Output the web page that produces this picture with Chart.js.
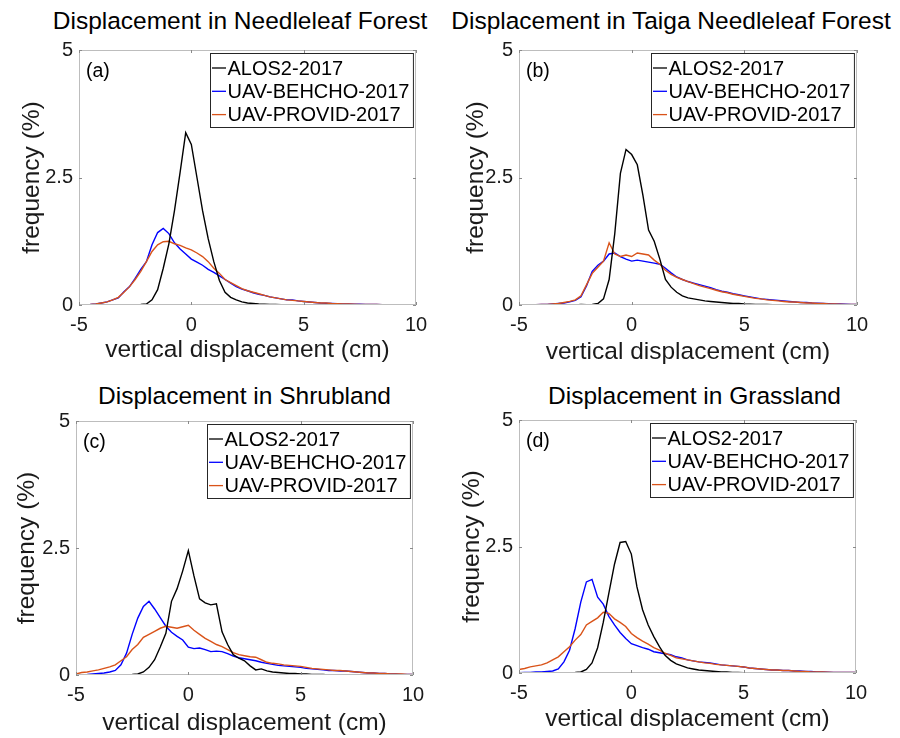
<!DOCTYPE html>
<html>
<head>
<meta charset="utf-8">
<script src="https://cdn.jsdelivr.net/npm/chart.js@4.4.0/dist/chart.umd.min.js"></script>
<style>
  body { margin: 0; background: #fff; width: 900px; height: 738px; overflow: hidden; position: relative;
         font-family: "Liberation Sans", Arial, sans-serif; }
  canvas { position: absolute; }
  .ttl { position: absolute; width: 500px; text-align: center; font-size: 24.5px; line-height: 24px; color: #000; white-space: nowrap; }
</style>
</head>
<body>
<div class="ttl" style="left:-10px;top:9px">Displacement in Needleleaf Forest</div>
<div class="ttl" style="left:421px;top:9px">Displacement in Taiga Needleleaf Forest</div>
<div class="ttl" style="left:-5.5px;top:383.7px">Displacement in Shrubland</div>
<div class="ttl" style="left:444.5px;top:383.7px">Displacement in Grassland</div>
<canvas id="pa" width="450" height="369" style="left:0;top:0"></canvas>
<canvas id="pb" width="450" height="369" style="left:450px;top:0"></canvas>
<canvas id="pc" width="450" height="369" style="left:0;top:369px"></canvas>
<canvas id="pd" width="450" height="369" style="left:450px;top:369px"></canvas>
<script>
// vertical displacement bins (cm)
var xs = [-5,-4.75,-4.5,-4.25, -4,-3.75,-3.5,-3.25, -3,-2.75,-2.5,-2.25, -2,-1.75,-1.5,-1.25,
  -1,-0.75,-0.5,-0.25, 0,0.25,0.5,0.75, 1,1.25,1.5,1.75, 2,2.25,2.5,2.75, 3,3.25,3.5,3.75,
  4,4.25,4.5,4.75, 5,5.25,5.5,5.75, 6,6.25,6.5,6.75, 7,7.25,7.5,7.75, 8,8.25,8.5,8.75,
  9,9.25,9.5,9.75, 10];
var seriesNames = ['ALOS2-2017', 'UAV-BEHCHO-2017', 'UAV-PROVID-2017'];
var yTicks = [0, 2.5, 5];

// (a) Needleleaf Forest
var alosA = [0,0,0,0, 0,0,0,0, 0,0,0.005,0.01, 0.02,0.1,0.3,0.72, 1.2,1.85,2.6,3.38, 3.15,2.5,1.85,1.3,
  0.85,0.48,0.25,0.15, 0.1,0.06,0.04,0.03, 0.02,0.015,0.01,0.01, 0.005,0,0,0, 0,0,0,0, 0,0,0,0,
  0,0,0,0, 0,0,0,0, 0,0,0,0, 0];
var behchoA = [0,0.005,0.01,0.02, 0.04,0.06,0.1,0.14, 0.26,0.36,0.52,0.7, 0.85,1.18,1.42,1.5, 1.4,1.22,1.1,1.0,
  0.9,0.84,0.78,0.7, 0.64,0.57,0.5,0.43, 0.36,0.31,0.28,0.24, 0.21,0.19,0.16,0.14, 0.12,0.1,0.1,0.08,
  0.07,0.06,0.05,0.04, 0.035,0.03,0.025,0.02, 0.02,0.015,0.015,0.01, 0.01,0.01,0.005,0.005, 0.005,0,0,0, 0];
var providA = [0,0.005,0.01,0.02, 0.04,0.06,0.1,0.15, 0.25,0.36,0.5,0.66, 0.85,1.05,1.18,1.24, 1.25,1.2,1.17,1.12,
  1.08,1.02,0.95,0.85, 0.72,0.62,0.5,0.44, 0.38,0.32,0.28,0.25, 0.22,0.19,0.16,0.14, 0.12,0.1,0.09,0.08,
  0.07,0.06,0.05,0.04, 0.04,0.03,0.025,0.02, 0.02,0.015,0.01,0.01, 0.01,0.01,0.005,0.005, 0.005,0.005,0,0, 0];

// (b) Taiga Needleleaf Forest
var alosB = [0,0,0,0, 0,0,0,0, 0,0,0,0.01, 0.005,0.01,0.03,0.12, 0.5,1.4,2.58,3.05, 2.95,2.75,2.15,1.47,
  1.25,0.9,0.5,0.35, 0.25,0.18,0.14,0.12, 0.1,0.08,0.07,0.06, 0.05,0.04,0.03,0.03, 0.02,0.015,0.01,0.01,
  0.01,0.005,0,0, 0,0,0,0, 0,0,0,0, 0,0,0,0, 0];
var behchoB = [0,0,0,0.005, 0.01,0.01,0.02,0.03, 0.04,0.06,0.09,0.16, 0.38,0.66,0.78,0.86, 1.0,1.02,0.95,0.9,
  0.86,0.88,0.86,0.84, 0.82,0.8,0.72,0.63, 0.55,0.5,0.46,0.43, 0.4,0.37,0.34,0.3, 0.27,0.25,0.22,0.2,
  0.18,0.16,0.14,0.12, 0.11,0.1,0.09,0.08, 0.07,0.06,0.05,0.05, 0.04,0.035,0.03,0.025, 0.02,0.02,0.015,0.01, 0.01];
var providB = [0,0,0,0.005, 0.01,0.01,0.02,0.03, 0.05,0.07,0.1,0.18, 0.4,0.62,0.74,0.86, 1.22,1.0,0.95,0.98,
  0.95,1.02,1.0,0.98, 0.88,0.8,0.68,0.6, 0.54,0.5,0.46,0.42, 0.38,0.35,0.32,0.29, 0.26,0.24,0.21,0.19,
  0.17,0.15,0.13,0.12, 0.1,0.09,0.08,0.07, 0.06,0.06,0.05,0.04, 0.04,0.03,0.03,0.02, 0.02,0.015,0.01,0.01, 0.01];

// (c) Shrubland
var alosC = [0,0,0,0, 0,0,0,0, 0,0.005,0.01,0.02, 0.06,0.15,0.3,0.55, 0.82,1.45,1.7,2.05, 2.45,1.95,1.5,1.42,
  1.38,1.4,0.85,0.6, 0.4,0.33,0.28,0.18, 0.1,0.12,0.08,0.06, 0.05,0.04,0.03,0.03, 0.02,0.02,0.01,0.01,
  0.01,0,0,0, 0,0,0,0, 0,0,0,0, 0,0,0,0, 0];
var behchoC = [0,0.005,0.01,0.02, 0.03,0.04,0.06,0.09, 0.2,0.43,0.8,1.12, 1.35,1.45,1.3,1.13, 0.96,0.84,0.76,0.69,
  0.55,0.52,0.53,0.5, 0.46,0.47,0.46,0.42, 0.37,0.34,0.32,0.3, 0.28,0.25,0.23,0.21, 0.19,0.18,0.17,0.16,
  0.15,0.13,0.12,0.11, 0.1,0.09,0.09,0.08, 0.08,0.07,0.06,0.05, 0.04,0.04,0.03,0.03, 0.02,0.02,0.01,0.01, 0.01];
var providC = [0.02,0.05,0.06,0.08, 0.1,0.13,0.16,0.2, 0.28,0.36,0.5,0.6, 0.74,0.8,0.86,0.92, 0.96,0.94,0.92,0.95,
  0.98,0.88,0.8,0.72, 0.66,0.6,0.56,0.5, 0.44,0.4,0.38,0.36, 0.35,0.3,0.25,0.23, 0.22,0.2,0.19,0.18,
  0.17,0.15,0.13,0.12, 0.11,0.1,0.09,0.09, 0.08,0.07,0.06,0.05, 0.04,0.04,0.03,0.03, 0.02,0.02,0.02,0.01, 0.01];

// (d) Grassland
var alosD = [0,0,0,0, 0,0,0,0, 0,0.005,0.01,0.02, 0.07,0.2,0.5,1.0, 1.58,2.15,2.58,2.6, 2.35,1.7,1.25,0.95,
  0.72,0.52,0.35,0.25, 0.18,0.14,0.1,0.08, 0.06,0.05,0.04,0.03, 0.02,0.02,0.01,0.01, 0.005,0,0,0,
  0,0,0,0, 0,0,0,0, 0,0,0,0, 0,0,0,0, 0];
var behchoD = [0.005,0.01,0.01,0.02, 0.02,0.03,0.04,0.08, 0.22,0.45,0.88,1.4, 1.8,1.85,1.5,1.36, 1.12,0.95,0.8,0.68,
  0.58,0.54,0.5,0.47, 0.42,0.4,0.38,0.36, 0.32,0.3,0.26,0.24, 0.22,0.21,0.2,0.18, 0.16,0.15,0.14,0.13,
  0.12,0.1,0.09,0.08, 0.07,0.06,0.06,0.05, 0.05,0.04,0.04,0.03, 0.03,0.02,0.02,0.015, 0.01,0.01,0.01,0.01, 0.01];
var providD = [0.07,0.09,0.12,0.14, 0.16,0.2,0.26,0.32, 0.42,0.52,0.65,0.76, 0.95,1.02,1.09,1.2, 1.18,1.07,1.0,0.92,
  0.78,0.7,0.63,0.57, 0.5,0.45,0.39,0.35, 0.3,0.28,0.26,0.24, 0.22,0.2,0.19,0.17, 0.16,0.15,0.14,0.13,
  0.12,0.1,0.09,0.08, 0.07,0.06,0.06,0.05, 0.05,0.04,0.03,0.03, 0.02,0.02,0.02,0.015, 0.01,0.01,0.01,0.01, 0.01];

var colors = ['#000000', '#0000ff', '#d95319'];
var FONT = '"Liberation Sans", Arial, sans-serif';

// box, inner ticks, panel letter and legend
var framePlugin = {
  id: 'frame',
  afterDatasetsDraw: function(chart, args, opts) {
    var ctx = chart.ctx, a = chart.chartArea;
    var sx = chart.scales.x, sy = chart.scales.y;
    ctx.save();
    ctx.lineWidth = 1;
    ctx.strokeStyle = '#bdbdbd';
    ctx.strokeRect(Math.round(a.left) + 0.5, Math.round(a.top) + 0.5,
                   Math.round(a.width) - 1, Math.round(a.height) - 1);
    ctx.strokeStyle = '#8a8a8a';
    ctx.beginPath();
    sx.ticks.forEach(function(t) {
      var px = Math.round(sx.getPixelForValue(t.value)) + 0.5;
      ctx.moveTo(px, a.bottom); ctx.lineTo(px, a.bottom - 3);
      ctx.moveTo(px, a.top); ctx.lineTo(px, a.top + 3);
    });
    sy.ticks.forEach(function(t) {
      var py = Math.round(sy.getPixelForValue(t.value)) + 0.5;
      ctx.moveTo(a.left, py); ctx.lineTo(a.left + 3, py);
      ctx.moveTo(a.right, py); ctx.lineTo(a.right - 3, py);
    });
    ctx.stroke();

    ctx.fillStyle = '#000';
    ctx.textBaseline = 'middle';
    ctx.textAlign = 'left';
    ctx.font = '19.5px ' + FONT;
    ctx.fillText(opts.label, a.left + 7, a.top + 22);

    // legend
    ctx.font = '20px ' + FONT;
    var ds = chart.data.datasets;
    var tw = 0;
    ds.forEach(function(d) { tw = Math.max(tw, ctx.measureText(d.label).width); });
    var bw = 19 + tw + 2, bh = 74;
    var bx = Math.round(a.right - 3 - bw) + 0.5, by = Math.round(a.top + 2.5) + 0.5;
    ctx.fillStyle = '#fff';
    ctx.fillRect(bx, by, bw, bh);
    ctx.strokeStyle = '#262626';
    ctx.lineWidth = 1;
    ctx.strokeRect(bx, by, bw, bh);
    ds.forEach(function(d, i) {
      var cy = by + 14.5 + 23.3 * i;
      ctx.strokeStyle = d.borderColor;
      ctx.lineWidth = 1.3;
      ctx.beginPath();
      ctx.moveTo(bx + 1.5, cy); ctx.lineTo(bx + 15.5, cy);
      ctx.stroke();
      ctx.fillStyle = '#000';
      ctx.fillText(d.label, bx + 17, cy + 1);
    });
    ctx.restore();
  }
};

var panels = [
  { id: 'pa', label: '(a)', series: [alosA, behchoA, providA], yW: 79, xH: 64, padTop: 50, padRight: 34, yTitlePad: 20, xTitlePad: 7 },
  { id: 'pb', label: '(b)', series: [alosB, behchoB, providB], yW: 69, xH: 64, padTop: 50, padRight: 43, yTitlePad: 13.5, xTitlePad: 4.5 },
  { id: 'pc', label: '(c)', series: [alosC, behchoC, providC], yW: 76, xH: 63, padTop: 52, padRight: 37, yTitlePad: 15, xTitlePad: 3 },
  { id: 'pd', label: '(d)', series: [alosD, behchoD, providD], yW: 69, xH: 65, padTop: 51, padRight: 44, yTitlePad: 10, xTitlePad: 6.5 }
];

panels.forEach(function(p) {
  var datasets = p.series.map(function(s, k) {
    return {
      label: seriesNames[k],
      data: xs.map(function(x, i) { return { x: x, y: s[i] }; }),
      borderColor: colors[k],
      borderWidth: 1.4,
      pointRadius: 0,
      tension: 0,
      fill: false
    };
  });
  // draw black on top like the reference
  datasets.forEach(function(d, k) { d.order = k === 0 ? 0 : 3 - k; });

  new Chart(document.getElementById(p.id), {
    type: 'line',
    data: { datasets: datasets },
    plugins: [framePlugin],
    options: {
      responsive: false,
      animation: false,
      layout: { padding: { top: p.padTop, right: p.padRight, left: 0, bottom: 0 } },
      plugins: {
        legend: { display: false },
        tooltip: { enabled: false },
        frame: { label: p.label }
      },
      scales: {
        x: {
          type: 'linear', min: -5, max: 10,
          ticks: { stepSize: 5, color: '#1a1a1a', padding: 8, font: { family: FONT, size: 20 }, maxRotation: 0 },
          grid: { display: false, drawTicks: false },
          border: { display: false },
          title: { display: true, text: 'vertical displacement (cm)', color: '#1a1a1a',
                   font: { family: FONT, size: 24.5, lineHeight: 1 }, padding: { top: 0, bottom: p.xTitlePad } },
          afterFit: function(s) { s.height = p.xH; }
        },
        y: {
          type: 'linear', min: 0, max: 5,
          afterBuildTicks: function(s) { s.ticks = yTicks.map(function(v) { return { value: v }; }); },
          ticks: { color: '#1a1a1a', padding: 6, font: { family: FONT, size: 20 },
                   callback: function(v) { return String(v); } },
          grid: { display: false, drawTicks: false },
          border: { display: false },
          title: { display: true, text: 'frequency (%)', color: '#1a1a1a',
                   font: { family: FONT, size: 24.5, lineHeight: 1 }, padding: { top: p.yTitlePad, bottom: 0 } },
          afterFit: function(s) { s.width = p.yW; }
        }
      }
    }
  });
});
</script>
</body>
</html>
